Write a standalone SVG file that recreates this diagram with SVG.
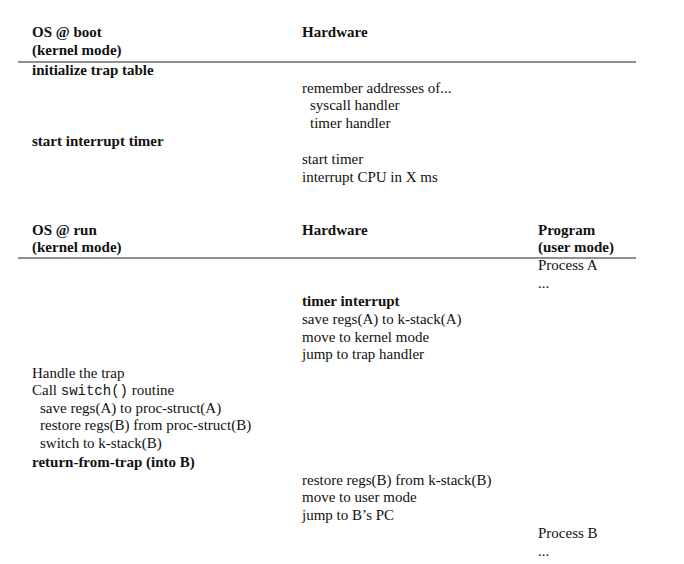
<svg xmlns="http://www.w3.org/2000/svg" width="684" height="564" viewBox="0 0 684 564">
<style>
text{font-family:"Liberation Serif","DejaVu Serif",serif;font-size:15px;fill:#111}
.b{font-weight:bold}
.m{font-family:"Liberation Mono","DejaVu Sans Mono",monospace;font-size:14px}
line{stroke:#222;stroke-width:1}
</style>
<rect width="684" height="564" fill="#fff"/>
<g id="rules">
<line x1="18" y1="62" x2="636" y2="62"/>
<line x1="18" y1="258" x2="636" y2="258"/>
</g>
<g id="boot">
<text class="b" x="32" y="37">OS @ boot</text>
<text class="b" x="32" y="55">(kernel mode)</text>
<text class="b" x="302" y="37">Hardware</text>
<text class="b" x="32" y="75">initialize trap table</text>
<text x="302" y="93">remember addresses of...</text>
<text x="310" y="110">syscall handler</text>
<text x="310" y="128">timer handler</text>
<text class="b" x="32" y="146">start interrupt timer</text>
<text x="302" y="164">start timer</text>
<text x="302" y="182">interrupt CPU in X ms</text>
</g>
<g id="run">
<text class="b" x="32" y="235">OS @ run</text>
<text class="b" x="32" y="252">(kernel mode)</text>
<text class="b" x="302" y="235">Hardware</text>
<text class="b" x="538" y="235">Program</text>
<text class="b" x="538" y="252">(user mode)</text>
<text x="538" y="270">Process A</text>
<text x="538" y="288">...</text>
<text class="b" x="302" y="306">timer interrupt</text>
<text x="302" y="324">save regs(A) to k-stack(A)</text>
<text x="302" y="342">move to kernel mode</text>
<text x="302" y="359">jump to trap handler</text>
<text x="32" y="378">Handle the trap</text>
<text x="32" y="395">Call <tspan class="m">switch()</tspan> routine</text>
<text x="40" y="413">save regs(A) to proc-struct(A)</text>
<text x="40" y="430">restore regs(B) from proc-struct(B)</text>
<text x="40" y="448">switch to k-stack(B)</text>
<text class="b" x="32" y="467">return-from-trap (into B)</text>
<text x="302" y="485">restore regs(B) from k-stack(B)</text>
<text x="302" y="502">move to user mode</text>
<text x="302" y="520">jump to B’s PC</text>
<text x="538" y="538">Process B</text>
<text x="538" y="556">...</text>
</g>
</svg>
